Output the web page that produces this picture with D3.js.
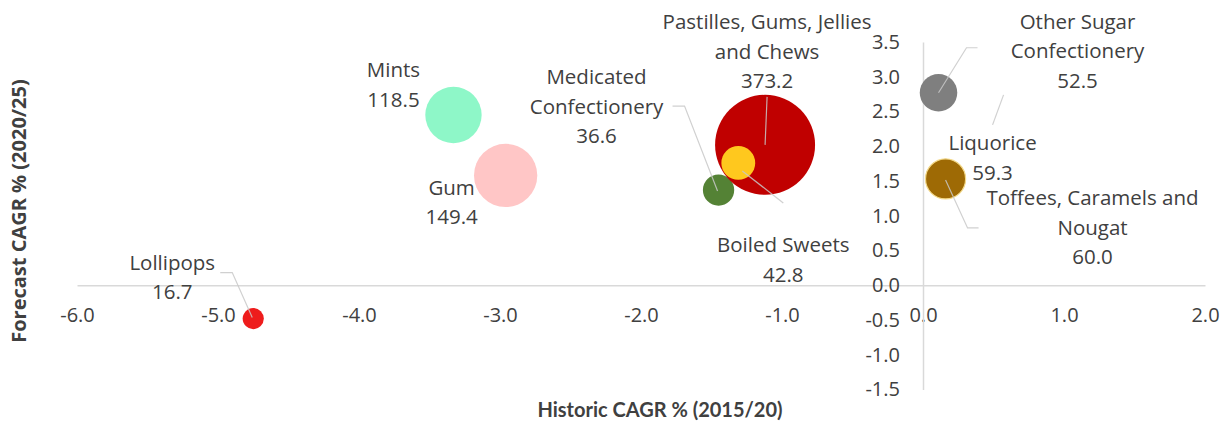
<!DOCTYPE html>
<html>
<head>
<meta charset="utf-8">
<script src="https://cdn.jsdelivr.net/npm/d3@7"></script>
<style>
  html, body { margin: 0; padding: 0; background: #ffffff; }
  svg { display: block; }
  text { font-family: "Open Sans", Lato, sans-serif; }
</style>
</head>
<body>
<svg id="chart" width="1226" height="423"></svg>
<script>
// ---------- DATA ----------
const categories = [
  "Lollipops", "Mints", "Gum", "Medicated Confectionery",
  "Pastilles, Gums, Jellies and Chews", "Boiled Sweets",
  "Other Sugar Confectionery", "Liquorice", "Toffees, Caramels and Nougat"
];
const historicCAGR = [-4.75, -3.33, -2.96, -1.45, -1.12, -1.31, 0.11, 0.16, 0.16];
const forecastCAGR = [-0.48, 2.45, 1.58, 1.37, 2.02, 1.76, 2.77, 1.53, 1.53];
const marketSize   = [16.7, 118.5, 149.4, 36.6, 373.2, 42.8, 52.5, 59.3, 60.0];
const labelLines = [
  ["Lollipops", "16.7"],
  ["Mints", "118.5"],
  ["Gum", "149.4"],
  ["Medicated", "Confectionery", "36.6"],
  ["Pastilles, Gums, Jellies", "and Chews", "373.2"],
  ["Boiled Sweets", "42.8"],
  ["Other Sugar", "Confectionery", "52.5"],
  ["Liquorice", "59.3"],
  ["Toffees, Caramels and", "Nougat", "60.0"]
];
const xTicks = [-6, -5, -4, -3, -2, -1, 0, 1, 2];
const yTicks = [-1.5, -1.0, -0.5, 0, 0.5, 1.0, 1.5, 2.0, 2.5, 3.0, 3.5];
const xTitle = "Historic CAGR % (2015/20)";
const yTitle = "Forecast CAGR % (2020/25)";

// ---------- STYLE / LAYOUT ----------
const colors = ["#ee1c1c", "#8ef7c8", "#ffc6c6", "#548235", "#c00000",
                "#ffc81e", "#7f7f7f", "#f2d27a", "#9e6a05"];
// label offsets (px) of first line centre relative to bubble centre
const labelOffset = [[-81,-56],[-60,-45],[-54,12],[-122,-113],[2,-123],[45,82],[139,-71],[47,-36],[147,19]];
// leader polylines (px) relative to bubble centre
const leaders = [
  [[-33,-46],[-21,-46],[-1,-1]],
  null, null,
  [[-46,-84],[-34,-84],[-1,1]],
  [[2,-48],[0,0]],
  [[4,8],[45,40]],
  [[39,-45],[28,-45],[0,0]],
  [[58,-84],[47,-54]],
  [[33,49],[22,49],[0,1]]
];
const lineGap = 29.5;
const textColor = "#404040";
const labelFont = "20.5px";

const svg = d3.select("#chart");
const x = d3.scaleLinear().domain([-6, 2]).range([77, 1205]);
const y = d3.scaleLinear().domain([-1.5, 3.5]).range([389.5, 42]);
const r = d3.scaleSqrt().domain([0, 373.2]).range([0, 50]);
const fmt = d => d.toFixed(1);

// axes
const xAxis = d3.axisBottom(x).tickValues(xTicks).tickFormat(fmt).tickSize(0).tickPadding(23);
const gx = svg.append("g").attr("transform", `translate(0,${y(0)})`).call(xAxis);
gx.select(".domain").attr("stroke", "#d9d9d9").attr("stroke-width", 1.5);
gx.selectAll("text").attr("fill", textColor).style("font-size", "20px").style("font-family", "Open Sans");

const yAxis = d3.axisLeft(y).tickValues(yTicks).tickFormat(fmt).tickSize(0).tickPadding(23);
const gy = svg.append("g").attr("transform", `translate(${x(0)},0)`).call(yAxis);
gy.select(".domain").attr("stroke", "#d9d9d9").attr("stroke-width", 1.5);
gy.selectAll("text").attr("fill", textColor).style("font-size", "20px").style("font-family", "Open Sans");

// bubbles
const data = categories.map((c, i) => ({
  c, hx: historicCAGR[i], fy: forecastCAGR[i], s: marketSize[i], i
}));
svg.append("g").selectAll("circle")
  .data(data).join("circle")
  .attr("cx", d => x(d.hx))
  .attr("cy", d => y(d.fy))
  .attr("r", d => r(d.s))
  .attr("fill", d => colors[d.i])
  .attr("stroke", d => d.i === 8 ? "#f3d98a" : "none")
  .attr("stroke-width", 1.2);

// leader lines
const lineGen = d3.line();
svg.append("g").selectAll("path")
  .data(data.filter(d => leaders[d.i]))
  .join("path")
  .attr("d", d => lineGen(leaders[d.i].map(p => [x(d.hx) + p[0], y(d.fy) + p[1]])))
  .attr("fill", "none")
  .attr("stroke", "#c8c8c8")
  .attr("stroke-opacity", 0.85)
  .attr("stroke-width", 1.2);

// labels
const lg = svg.append("g");
data.forEach(d => {
  const cx = x(d.hx) + labelOffset[d.i][0];
  const cy = y(d.fy) + labelOffset[d.i][1];
  const t = lg.append("text")
    .attr("text-anchor", "middle")
    .attr("fill", textColor)
    .style("font-size", labelFont);
  labelLines[d.i].forEach((ln, k) => {
    t.append("tspan").attr("x", cx).attr("y", cy + k * lineGap).attr("dy", "0.35em").text(ln);
  });
});

// axis titles
svg.append("text")
  .attr("x", 660).attr("y", 410).attr("dy", "0.35em")
  .attr("text-anchor", "middle")
  .attr("fill", textColor)
  .style("font-family", "Lato")
  .style("font-size", "20px").style("font-weight", "bold")
  .text(xTitle);
svg.append("text")
  .attr("transform", "translate(19,211) rotate(-90)")
  .attr("dy", "0.35em")
  .attr("text-anchor", "middle")
  .attr("fill", textColor)
  .style("font-family", "Open Sans")
  .style("font-size", "20px").style("font-weight", "bold")
  .text(yTitle);
</script>
</body>
</html>
